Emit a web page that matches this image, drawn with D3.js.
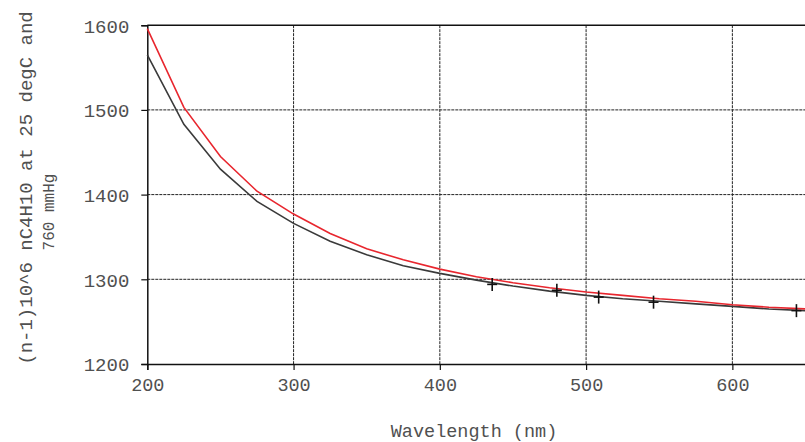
<!DOCTYPE html>
<html>
<head>
<meta charset="utf-8">
<script src="https://cdn.jsdelivr.net/npm/d3@7"></script>
<style>
  html, body { margin: 0; padding: 0; background: #fff; }
  svg { display: block; }
  text { font-family: "Liberation Mono", "Courier New", monospace; fill: #505050; }
</style>
</head>
<body>
<svg id="chart" width="805" height="442"></svg>
<script>
// Refractivity of n-butane, (n-1)·10^6 at 25 °C / 760 mmHg, versus wavelength
const wavelengths = [200, 225, 250, 275, 300, 325, 350, 375, 400, 425, 450, 475, 500, 525, 550, 575, 600, 625, 650];
const modelRed    = [1596, 1503, 1445, 1404, 1377, 1354, 1336, 1323, 1312, 1303, 1296, 1290, 1285, 1281, 1277, 1274, 1270, 1267, 1265];
const modelBlack  = [1565, 1483, 1430, 1392, 1366, 1345, 1329, 1316, 1307, 1299, 1292, 1286, 1281, 1277, 1274, 1271, 1268, 1265, 1263];

// measured points (spectral lines)
const measWavelength = [435.8, 480.0, 508.6, 546.1, 643.8];
const measValue      = [1294, 1287, 1279, 1273, 1263];

const xTicks = [200, 300, 400, 500, 600];
const yTicks = [1200, 1300, 1400, 1500, 1600];

const svg = d3.select("#chart");
const x = d3.scaleLinear().domain([200, 650]).range([147.3, 805.5]);
const y = d3.scaleLinear().domain([1200, 1600]).range([364, 25.2]);

// grid
const grid = svg.append("g");
grid.selectAll("line.vx").data(xTicks.slice(1)).join("line")
  .attr("x1", d => x(d)).attr("x2", d => x(d))
  .attr("y1", y(1600)).attr("y2", y(1200))
  .attr("stroke", "#222").attr("stroke-width", 1).attr("stroke-dasharray", "3,1");
grid.selectAll("line.hy").data(yTicks.slice(1, -1)).join("line")
  .attr("x1", x(200)).attr("x2", 805)
  .attr("y1", d => y(d)).attr("y2", d => y(d))
  .attr("stroke", "#222").attr("stroke-width", 1).attr("stroke-dasharray", "3,1");

// top frame
svg.append("line")
  .attr("x1", x(200)).attr("x2", 805).attr("y1", y(1600)).attr("y2", y(1600))
  .attr("stroke", "#111").attr("stroke-width", 1.5);

// axes
const xAxis = svg.append("g").attr("transform", `translate(0,${y(1200)})`)
  .call(d3.axisBottom(x).tickValues(xTicks).tickSize(6).tickPadding(8).tickFormat(d3.format("d")));
const yAxis = svg.append("g").attr("transform", `translate(${x(200)},0)`)
  .call(d3.axisLeft(y).tickValues(yTicks).tickSize(6).tickPadding(12).tickFormat(d3.format("d")));
[xAxis, yAxis].forEach(g => {
  g.select(".domain").attr("stroke", "#111").attr("stroke-width", 1.5);
  g.selectAll(".tick line").attr("stroke", "#111").attr("stroke-width", 1.2);
  g.selectAll(".tick text").attr("fill", "#505050")
    .style("font-family", "'Liberation Mono', 'Courier New', monospace");
});
xAxis.selectAll(".tick text").style("font-size", "18.5px");
yAxis.selectAll(".tick text").style("font-size", "19px").attr("dy", "0.36em");

// curves
const line = d3.line().x(d => x(d[0])).y(d => y(d[1]));
svg.append("path")
  .datum(wavelengths.map((w, i) => [w, modelBlack[i]]))
  .attr("d", line).attr("fill", "none").attr("stroke", "#3a3a3a").attr("stroke-width", 1.6);
svg.append("path")
  .datum(wavelengths.map((w, i) => [w, modelRed[i]]))
  .attr("d", line).attr("fill", "none").attr("stroke", "#e8262e").attr("stroke-width", 1.6);

// measured markers
const marks = svg.append("g").attr("stroke", "#111").attr("stroke-width", 1.6);
measWavelength.forEach((w, i) => {
  const cx = x(w), cy = y(measValue[i]);
  marks.append("line").attr("x1", cx).attr("x2", cx).attr("y1", cy - 6.5).attr("y2", cy + 6.5);
  marks.append("line").attr("x1", cx - 5).attr("x2", cx + 5).attr("y1", cy).attr("y2", cy);
});

// axis titles
svg.append("text")
  .attr("x", 474).attr("y", 437)
  .attr("text-anchor", "middle").style("font-size", "18.5px")
  .text("Wavelength (nm)");

svg.append("text")
  .attr("transform", "translate(32,188) rotate(-90)")
  .attr("text-anchor", "middle").style("font-size", "19px")
  .text("(n-1)10^6 nC4H10 at 25 degC and");
svg.append("text")
  .attr("transform", "translate(54,212) rotate(-90)")
  .attr("text-anchor", "middle").style("font-size", "16px")
  .text("760 mmHg");
</script>
</body>
</html>
